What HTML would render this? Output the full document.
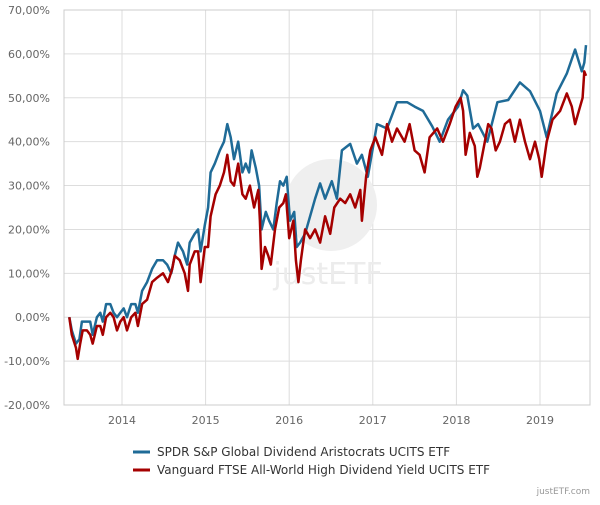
<!DOCTYPE html>
<html><head><meta charset="utf-8"><style>
body{margin:0;background:#fff;font-family:"Liberation Sans",sans-serif}
svg text{font-family:"DejaVu Sans","Liberation Sans",sans-serif}
</style></head><body>
<svg id="c" width="600" height="500">
<g id="grid"></g>
<g id="wm">
<circle cx="331" cy="205" r="46" fill="#efefef"/>
<text x="328" y="284" font-size="30" fill="#ececec" text-anchor="middle" font-family="Liberation Serif,serif">justETF</text>
</g>
<g id="series"></g>
<g id="legend">
<g><line x1="133" y1="452" x2="150" y2="452" stroke="#1f6b97" stroke-width="3"/><text x="157" y="456" font-size="12" fill="#333">SPDR S&amp;P Global Dividend Aristocrats UCITS ETF</text></g>
<g><line x1="133" y1="470" x2="150" y2="470" stroke="#a50000" stroke-width="3"/><text x="157" y="474" font-size="12" fill="#333">Vanguard FTSE All-World High Dividend Yield UCITS ETF</text></g>
</g>
<text x="590" y="494" font-size="9" fill="#999" text-anchor="end">justETF.com</text>
</svg>
<script>
const yTicks=[-20,-10,0,10,20,30,40,50,60,70];
const xTicks=[2014,2015,2016,2017,2018,2019];
const blueDates=[2013.37,2013.40,2013.45,2013.49,2013.52,2013.57,2013.62,2013.65,2013.70,2013.74,2013.77,2013.81,2013.86,2013.90,2013.94,2013.98,2014.02,2014.06,2014.11,2014.16,2014.19,2014.24,2014.30,2014.36,2014.42,2014.49,2014.54,2014.59,2014.63,2014.67,2014.73,2014.78,2014.81,2014.87,2014.91,2014.94,2014.99,2015.03,2015.06,2015.11,2015.17,2015.22,2015.26,2015.30,2015.34,2015.39,2015.44,2015.48,2015.52,2015.55,2015.60,2015.64,2015.67,2015.72,2015.76,2015.81,2015.85,2015.89,2015.93,2015.97,2016.01,2016.06,2016.09,2016.13,2016.19,2016.31,2016.37,2016.43,2016.51,2016.57,2016.63,2016.73,2016.81,2016.87,2016.94,2017.05,2017.17,2017.29,2017.41,2017.50,2017.60,2017.71,2017.80,2017.90,2018.02,2018.08,2018.13,2018.20,2018.26,2018.37,2018.49,2018.62,2018.76,2018.88,2019.00,2019.08,2019.20,2019.32,2019.42,2019.50,2019.53,2019.55];
const blueValues=[0,-3,-6,-5,-1,-1,-1,-4,0,1,-1,3,3,1,0,1,2,0,3,3,1,6,8,11,13,13,12,10,14,17,15,12,17,19,20,15,21,25,33,35,38,40,44,41,36,40,33,35,33,38,34,30,20,24,22,20,26,31,30,32,22,24,16,17,19,27,30.5,27,31,27,38,39.5,35,37,32,44,43,49,49,48,47,43.5,40,45,48,51.7,50.5,43,44,40,49,49.5,53.5,51.5,47,41,51,55.5,61,56,58,62,61];
const redDates=[2013.37,2013.40,2013.45,2013.47,2013.50,2013.53,2013.58,2013.62,2013.65,2013.70,2013.74,2013.77,2013.81,2013.86,2013.90,2013.94,2013.98,2014.02,2014.06,2014.11,2014.16,2014.19,2014.24,2014.30,2014.36,2014.42,2014.49,2014.55,2014.60,2014.63,2014.69,2014.75,2014.79,2014.81,2014.87,2014.91,2014.94,2014.99,2015.03,2015.06,2015.12,2015.17,2015.22,2015.26,2015.30,2015.34,2015.39,2015.44,2015.48,2015.53,2015.58,2015.63,2015.65,2015.67,2015.71,2015.75,2015.78,2015.83,2015.88,2015.93,2015.96,2016.00,2016.05,2016.08,2016.11,2016.14,2016.19,2016.25,2016.31,2016.37,2016.43,2016.49,2016.54,2016.61,2016.67,2016.73,2016.79,2016.85,2016.87,2016.92,2016.97,2017.03,2017.11,2017.17,2017.23,2017.29,2017.38,2017.44,2017.50,2017.56,2017.62,2017.68,2017.77,2017.84,2017.92,2017.99,2018.05,2018.08,2018.11,2018.16,2018.22,2018.25,2018.28,2018.33,2018.38,2018.42,2018.47,2018.52,2018.58,2018.64,2018.70,2018.76,2018.82,2018.88,2018.94,2018.99,2019.02,2019.08,2019.15,2019.24,2019.32,2019.38,2019.42,2019.45,2019.51,2019.53,2019.55];
const redValues=[0,-4,-7,-9.5,-6,-3,-3,-4,-6,-2,-2,-4,0,1,0,-3,-1,0,-3,0,1,-2,3,4,8,9,10,8,11,14,13,10,6,12,15,15,8,16,16,23,28,30,33,37,31,30,35,28,27,30,25,29,22,11,16,14,12,20,25,26,28,18,22,13,8,13,20,18,20,17,23,19,25,27,26,28,25,29,22,32,38,41,37,44,40,43,40,44,38,37,33,41,43,40,44,48,50,47,37,42,39,32,34,39,44,43,38,40,44,45,40,45,40,36,40,36,32,40,45,47,51,48,44,46,50,56,55];

const L=64,R=590,T=10,B=405;
const yS=v=>B-(v+20)/90*(B-T);
const xS=d=>122+(d-2014)*83.6;
const NS='http://www.w3.org/2000/svg';
const grid=document.getElementById('grid');
function mk(tag,attrs,parent){const e=document.createElementNS(NS,tag);for(const k in attrs)e.setAttribute(k,attrs[k]);parent.appendChild(e);return e;}
yTicks.forEach(v=>{
  const y=yS(v);
  const gl=mk('line',{x1:L,x2:R,y1:y,y2:y,stroke:'#ddd','stroke-width':1},grid);
  
  
  const t=mk('text',{x:50,y:y+4,'font-size':11,fill:'#666','text-anchor':'end'},grid);
  t.textContent=v.toFixed(2).replace('.',',')+'%';
  
  
});
xTicks.forEach(d=>{
  const x=xS(d);
  const gl=mk('line',{x1:x,x2:x,y1:T,y2:B,stroke:'#ddd','stroke-width':1},grid);
  
  
  const t=mk('text',{x:x,y:B+19,'font-size':11,fill:'#666','text-anchor':'middle'},grid);
  t.textContent=d;
  
  
});
const ax=mk('rect',{x:L,y:T,width:R-L,height:B-T,fill:'none',stroke:'#ccc','stroke-width':1},grid);


const ser=document.getElementById('series');
function draw(dates,vals,color,name){
  const n=Math.min(dates.length,vals.length);
  let p='';
  for(let i=0;i<n;i++)p+=(i?'L':'M')+xS(dates[i]).toFixed(1)+','+yS(vals[i]).toFixed(1);
  const e=mk('path',{d:p,fill:'none',stroke:color,'stroke-width':2.5,'stroke-linejoin':'round'},ser);
  
  
}
draw(blueDates,blueValues,'#1f6b97','series-spdr');
draw(redDates,redValues,'#a50000','series-vanguard');
</script>
</body></html>
